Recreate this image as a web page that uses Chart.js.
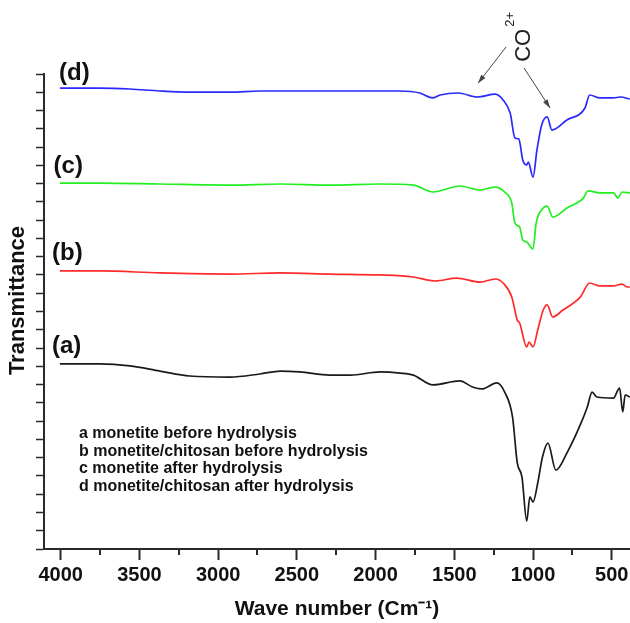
<!DOCTYPE html>
<html>
<head>
<meta charset="utf-8">
<script src="https://cdn.jsdelivr.net/npm/chart.js@4"></script>
<style>
    body { margin: 0; background: #fff; }
</style>
</head>
<body>
<canvas id="myChart" width="630" height="623"></canvas>
<script>
/*
    FTIR spectra of monetite samples, curves stacked (arbitrary units)
*/

// (a) monetite before hydrolysis
const waveA = [4005, 3750, 3560, 3370, 3180, 2925, 2735, 2605, 2480, 2290, 2160, 1970, 1845, 1760, 1635, 1465, 1385, 1325, 1230, 1180, 1130, 1100, 1070, 1040, 1020, 1000, 970, 940, 905, 855, 785, 700, 655, 625, 595, 490, 450, 430, 415, 385]
const transA = [10.13, 10.13, 10.02, 9.74, 9.47, 9.41, 9.58, 9.74, 9.69, 9.52, 9.52, 9.69, 9.63, 9.52, 8.98, 9.20, 8.87, 8.76, 9.09, 8.59, 7.22, 4.71, 3.94, 1.53, 2.85, 2.57, 3.61, 5.04, 5.80, 4.32, 5.25, 6.79, 7.77, 8.59, 8.32, 8.26, 8.81, 7.50, 8.43, 8.32]

// (b) monetite/chitosan before hydrolysis
const waveB = [4005, 3750, 3370, 2925, 2605, 2290, 1970, 1760, 1620, 1485, 1335, 1240, 1190, 1135, 1100, 1085, 1040, 1025, 1000, 970, 935, 910, 875, 810, 700, 640, 575, 490, 435, 400, 385]
const transB = [15.22, 15.22, 15.11, 15.05, 15.11, 15.05, 15.00, 14.89, 14.67, 14.83, 14.61, 14.78, 14.56, 13.79, 12.53, 12.37, 11.06, 11.33, 11.06, 11.99, 13.08, 13.36, 12.70, 13.08, 13.79, 14.56, 14.40, 14.40, 14.50, 14.34, 14.34]

// (c) monetite after hydrolysis
const waveC = [4005, 3750, 3370, 2925, 2605, 2290, 1970, 1760, 1635, 1465, 1335, 1240, 1180, 1135, 1115, 1085, 1065, 1040, 1000, 980, 935, 910, 875, 785, 680, 650, 575, 490, 460, 435, 385]
const transC = [20.03, 20.03, 19.98, 19.92, 19.98, 19.92, 19.98, 19.92, 19.54, 19.87, 19.65, 19.81, 19.54, 18.94, 17.84, 17.62, 16.91, 16.80, 16.42, 17.84, 18.66, 18.77, 18.17, 18.66, 19.21, 19.60, 19.49, 19.49, 19.21, 19.54, 19.49]

// (d) monetite/chitosan after hydrolysis
const waveD = [4005, 3750, 3560, 3370, 3180, 2925, 2735, 2480, 2160, 1970, 1845, 1720, 1640, 1590, 1475, 1355, 1240, 1190, 1145, 1115, 1090, 1065, 1040, 1030, 1000, 975, 945, 910, 880, 785, 670, 640, 575, 490, 445, 385]
const transD = [25.23, 25.23, 25.18, 25.07, 25.01, 25.01, 25.07, 25.07, 25.07, 25.07, 25.07, 24.96, 24.69, 24.85, 24.96, 24.74, 24.90, 24.58, 23.86, 22.50, 22.44, 21.29, 21.02, 21.18, 20.36, 21.84, 23.21, 23.65, 22.93, 23.48, 24.14, 24.85, 24.69, 24.69, 24.74, 24.63]

const xTicks = [500, 1000, 1500, 2000, 2500, 3000, 3500, 4000]
const xMinorTicks = [750, 1250, 1750, 2250, 2750, 3250, 3750]
const curveLabels = ["(a)", "(b)", "(c)", "(d)"]
const legendLines = [
    "a monetite before hydrolysis",
    "b monetite/chitosan before hydrolysis",
    "c monetite after hydrolysis",
    "d monetite/chitosan after hydrolysis",
]

const FONT = "Arial, 'Liberation Sans', sans-serif"
const AXIS = "#2a2a2a"

function toPoints(xs, ys) {
    return xs.map((x, i) => ({ x: x, y: ys[i] }))
}

function arrow(ctx, x1, y1, x2, y2) {
    const ang = Math.atan2(y2 - y1, x2 - x1)
    ctx.beginPath()
    ctx.moveTo(x1, y1)
    ctx.lineTo(x2, y2)
    ctx.stroke()
    ctx.beginPath()
    ctx.moveTo(x2, y2)
    ctx.lineTo(x2 - 9 * Math.cos(ang - 0.3), y2 - 9 * Math.sin(ang - 0.3))
    ctx.lineTo(x2 - 9 * Math.cos(ang + 0.3), y2 - 9 * Math.sin(ang + 0.3))
    ctx.closePath()
    ctx.fill()
}

// minor ticks, y title, curve labels, sample legend and the CO2+ note
const overlay = {
    id: "overlay",
    afterDraw(chart) {
        const { ctx, scales: { x, y } } = chart
        ctx.save()

        ctx.strokeStyle = AXIS
        ctx.lineWidth = 2
        xMinorTicks.forEach(v => {
            const px = Math.round(x.getPixelForValue(v))
            ctx.beginPath()
            ctx.moveTo(px, y.bottom)
            ctx.lineTo(px, y.bottom + 6)
            ctx.stroke()
        })

        // y axis title (sits a bit above the axis middle)
        ctx.save()
        ctx.translate(18, y.getPixelForValue(13.6))
        ctx.rotate(-Math.PI / 2)
        ctx.fillStyle = "#111"
        ctx.font = "bold 22px " + FONT
        ctx.textAlign = "center"
        ctx.textBaseline = "middle"
        ctx.fillText("Transmittance", 0, 0)
        ctx.restore()

        // (a) .. (d)
        ctx.fillStyle = "#111"
        ctx.font = "bold 24px " + FONT
        ctx.textAlign = "left"
        ctx.textBaseline = "alphabetic"
        const labelX = [4055, 4055, 4045, 4010]
        const labelY = [10.73, 15.82, 20.58, 25.67]
        curveLabels.forEach((t, i) => {
            ctx.fillText(t, x.getPixelForValue(labelX[i]), y.getPixelForValue(labelY[i]))
        })

        // sample legend
        ctx.font = "bold 16px " + FONT
        ctx.textBaseline = "middle"
        const legY = [6.29, 5.34, 4.38, 3.42]
        legendLines.forEach((t, i) => {
            ctx.fillText(t, x.getPixelForValue(3884), y.getPixelForValue(legY[i]))
        })

        // CO2+ rotated note
        ctx.save()
        ctx.translate(x.getPixelForValue(1077), y.getPixelForValue(27.6))
        ctx.rotate(-Math.PI / 2)
        ctx.textBaseline = "alphabetic"
        ctx.font = "22px " + FONT
        ctx.fillStyle = "#222"
        ctx.fillText("CO", -17, 9)
        ctx.font = "13px " + FONT
        ctx.fillText("2+", 18, -7)
        ctx.restore()

        ctx.strokeStyle = "#444"
        ctx.fillStyle = "#444"
        ctx.lineWidth = 1
        arrow(ctx, x.getPixelForValue(1171), y.getPixelForValue(27.48), x.getPixelForValue(1349), y.getPixelForValue(25.5))
        arrow(ctx, x.getPixelForValue(1057), y.getPixelForValue(26.33), x.getPixelForValue(892), y.getPixelForValue(24.14))

        ctx.restore()
    }
}

function lineSet(label, xs, ys, color) {
    return {
        label: label,
        data: toPoints(xs, ys),
        borderColor: color,
        borderWidth: 1.7,
        pointRadius: 0,
        fill: false,
        cubicInterpolationMode: "monotone",
    }
}

const ctx = document.getElementById("myChart")
const myChart = new Chart(ctx, {
    type: "line",
    data: {
        datasets: [
            lineSet("a", waveA, transA, "#1a1a1a"),
            lineSet("b", waveB, transB, "#ff2a2a"),
            lineSet("c", waveC, transC, "#22ee22"),
            lineSet("d", waveD, transD, "#2a2aff"),
        ]
    },
    options: {
        responsive: false,
        animation: false,
        layout: { padding: { top: 74, left: 0, right: 0, bottom: 0 } },
        scales: {
            x: {
                type: "linear",
                reverse: true,
                min: 384,
                max: 4106,
                afterBuildTicks: s => { s.ticks = xTicks.map(v => ({ value: v })) },
                afterFit: s => { s.height = 74; s.paddingLeft = 0; s.paddingRight = 0 },
                border: { color: AXIS, width: 2 },
                grid: { drawOnChartArea: false, tickLength: 11, tickWidth: 2, tickColor: AXIS },
                ticks: {
                    color: "#111",
                    padding: 3,
                    maxRotation: 0,
                    autoSkip: false,
                    font: { family: FONT, size: 20, weight: "bold" },
                    callback: v => String(v),
                },
                title: {
                    display: true,
                    text: "Wave number (Cm\u207B\u00B9)",
                    color: "#111",
                    padding: { top: 0, bottom: 1 },
                    font: { family: FONT, size: 21, weight: "bold" },
                },
            },
            y: {
                min: 0,
                max: 26,
                afterFit: s => { s.width = 44; s.paddingTop = 0; s.paddingBottom = 0 },
                border: { color: AXIS, width: 2 },
                grid: { drawOnChartArea: false, tickLength: 8, tickWidth: 1.5, tickColor: AXIS },
                ticks: { display: false, stepSize: 1 },
            },
        },
        plugins: {
            legend: { display: false },
            tooltip: { enabled: false },
        },
    },
    plugins: [overlay],
})
</script>
</body>
</html>
